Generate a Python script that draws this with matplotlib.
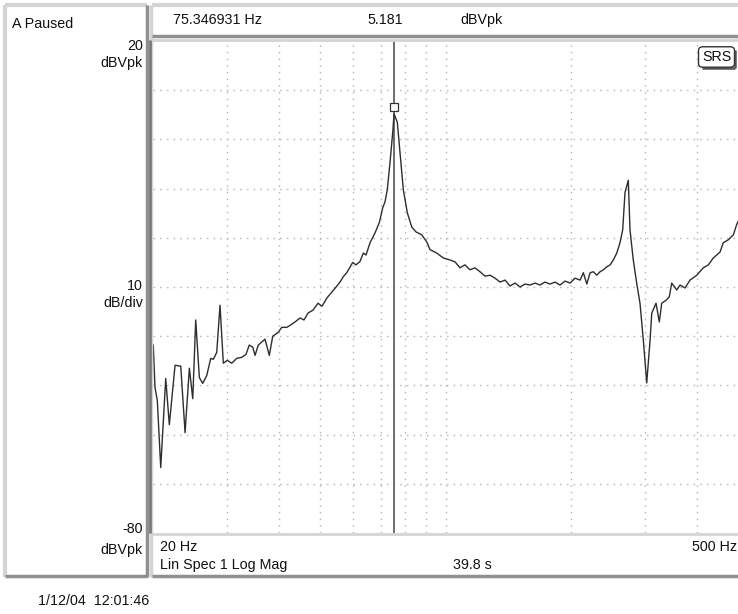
import matplotlib
matplotlib.use("Agg")
import matplotlib.pyplot as plt
import matplotlib.transforms as mtransforms
from matplotlib.lines import Line2D
from matplotlib.patches import FancyBboxPatch

plt.rcParams['font.family'] = ['Liberation Sans', 'DejaVu Sans']

# trace (frequency in Hz, level in dBVpk)
freq = [20.03, 20.22, 20.48, 20.87, 21.45, 21.88, 22.58, 23.30, 23.86, 24.43,
        24.89, 25.30, 25.81, 26.29, 26.88, 27.48, 27.87, 28.40, 28.92, 29.45,
        30.10, 30.84, 31.70, 32.58, 33.36, 33.97, 34.62, 35.06, 35.70, 37.04,
        37.93, 38.65, 39.86, 40.61, 41.75, 42.51, 43.70, 44.92, 45.91, 46.93,
        48.24, 49.58, 50.69, 52.12, 53.57, 54.77, 55.96, 57.00, 58.07, 60.02,
        61.12, 62.48, 63.63, 64.58, 66.02, 67.86, 69.48, 70.79, 71.69, 72.60,
        73.69, 74.79, 75.35, 76.71, 77.86, 79.28, 81.05, 83.03, 85.01, 87.72,
        90.17, 91.82, 95.27, 98.79, 102.5, 105.4, 108.3, 111.3, 114.4, 117.6,
        120.9, 124.3, 127.8, 131.3, 135.0, 138.8, 142.6, 146.6, 150.7, 154.9,
        159.2, 163.7, 168.2, 172.9, 177.7, 182.7, 187.8, 193.0, 198.5, 204.0,
        209.7, 213.5, 217.6, 221.6, 225.6, 229.9, 234.1, 238.4, 242.9, 247.4,
        251.8, 256.6, 261.2, 265.1, 268.5, 273.4, 276.0, 281.0, 286.3, 291.6,
        297.0, 302.6, 308.2, 311.1, 318.5, 324.3, 328.6, 336.5, 342.6, 347.2,
        356.9, 363.4, 373.6, 384.0, 398.5, 413.2, 424.7, 436.5, 452.9, 461.2,
        474.1, 487.3, 496.5, 500.0]
level = [-41.8, -50.4, -53.1, -66.7, -48.6, -58.0, -45.9, -46.1, -59.6, -46.5,
         -52.7, -36.7, -48.4, -49.6, -48.0, -44.5, -44.7, -43.3, -33.7, -45.5,
         -44.9, -45.5, -44.5, -44.3, -43.7, -41.8, -42.2, -43.9, -41.8, -40.6,
         -43.9, -40.0, -39.2, -38.2, -38.2, -37.8, -37.1, -36.3, -36.7, -35.3,
         -34.7, -33.3, -33.9, -32.2, -31.0, -30.0, -29.0, -27.9, -27.1, -25.0,
         -25.5, -24.8, -23.1, -23.5, -21.0, -19.0, -16.9, -13.9, -12.7, -10.2,
         -4.7, 1.4, 5.181, 3.5, -2.7, -10.2, -14.9, -17.8, -18.8, -19.4,
         -20.8, -22.4, -23.1, -24.1, -24.5, -24.9, -26.1, -25.5, -26.5, -26.1,
         -26.9, -27.8, -27.6, -28.2, -29.0, -28.6, -29.8, -29.2, -30.0, -29.4,
         -29.6, -29.2, -29.6, -29.0, -29.4, -29.0, -29.6, -28.8, -29.2, -28.2,
         -28.6, -27.1, -29.4, -27.1, -26.9, -27.6, -26.9, -26.5, -25.9, -25.5,
         -24.5, -23.1, -21.0, -18.4, -10.8, -8.3, -18.4, -24.5, -29.2, -33.3,
         -40.8, -49.5, -40.8, -35.3, -33.3, -37.1, -33.3, -32.7, -32.0, -29.2,
         -30.6, -29.6, -30.2, -28.6, -27.6, -26.1, -25.5, -24.1, -22.9, -21.0,
         -20.4, -19.4, -17.3, -16.7]

x_grid = [30, 40, 50, 60, 70, 80, 90, 100, 200, 300, 400]
y_grid = [10, 0, -10, -20, -30, -40, -50, -60, -70]
marker_freq = 75.346931
marker_level = 5.181

W, H = 738, 614
fig = plt.figure(figsize=(W / 100, H / 100), dpi=100)
fig.patch.set_facecolor("white")


def fx(x):
    return x / W


def fy(y):
    return 1 - y / H


def line(x0, y0, x1, y1, color, lw):
    fig.add_artist(Line2D([fx(x0), fx(x1)], [fy(y0), fy(y1)], color=color,
                          lw=lw, solid_capstyle="butt"))


def label(x, y, s, ha="left"):
    fig.text(fx(x), fy(y), s, ha=ha, va="center", fontsize=10.3, color="#111111")


# plot area
ax = fig.add_axes([fx(153), fy(533), fx(738) - fx(153), fy(41) - fy(533)])
ax.set_xscale("log")
ax.set_xlim(20, 500)
ax.set_ylim(-80, 20)
for f in x_grid:
    ax.axvline(f, color="#bcbcbc", lw=1.0, dashes=(1.2, 3.6), zorder=1)
for v in y_grid:
    ax.axhline(v, color="#bcbcbc", lw=1.0, dashes=(1.2, 3.6), zorder=1)
ax.plot(freq, level, color="#2e2e2e", lw=1.0, zorder=3)
ax.axvline(marker_freq, color="#555555", lw=1.2, zorder=2)
off = mtransforms.offset_copy(ax.transData, fig=fig, x=0, y=5, units="points")
ax.plot([marker_freq], [marker_level], marker="s", ms=6, mfc="white",
        mec="#333333", mew=0.9, transform=off, zorder=4)
ax.set_xticks([])
ax.set_yticks([])
ax.minorticks_off()
for s in ax.spines.values():
    s.set_visible(False)

# panel borders
light, dark = "#d4d4d4", "#909090"
line(5, 5, 147, 5, light, 3)
line(5, 5, 5, 577, light, 3)
line(5, 576, 147, 576, dark, 2.5)
line(147, 5, 147, 577, dark, 2.5)
line(152, 5, 738, 5, light, 3)
line(151, 5, 151, 577, light, 2.5)
line(152, 36, 738, 36, dark, 2.5)
line(152, 40, 738, 40, light, 2)
line(149.5, 40, 149.5, 533, "#7a7a7a", 2)
line(152, 533.5, 738, 533.5, light, 2)
line(152, 576, 738, 576, dark, 2.5)

# texts
label(12, 24, "A Paused")
label(143, 46, "20", "right")
label(143, 63, "dBVpk", "right")
label(143, 286, "10", "right")
label(143, 303, "dB/div", "right")
label(143, 529, "-80", "right")
label(143, 550, "dBVpk", "right")
label(173, 20, "75.346931 Hz")
label(367, 20, "5.181")
label(460, 20, "dBVpk")
label(160, 547, "20 Hz")
label(737, 547, "500 Hz", "right")
label(160, 565, "Lin Spec 1 Log Mag")
label(453, 565, "39.8 s")
label(38, 601, "1/12/04  12:01:46")

# SRS badge
fig.add_artist(FancyBboxPatch((fx(700), fy(66)), fx(733) - fx(700), fy(48) - fy(66),
                              boxstyle="round,pad=0.002,rounding_size=0.006",
                              fc="white", ec="#333333", lw=1.0, zorder=5))
line(734.5, 50, 734.5, 67.5, "#555555", 1.8)
line(702, 67.5, 734.5, 67.5, "#555555", 1.8)
fig.text(fx(716.5), fy(57), "SRS", ha="center", va="center", fontsize=10.3,
         color="#111111", zorder=6)

fig.savefig("out.png", dpi=100, facecolor="white")
